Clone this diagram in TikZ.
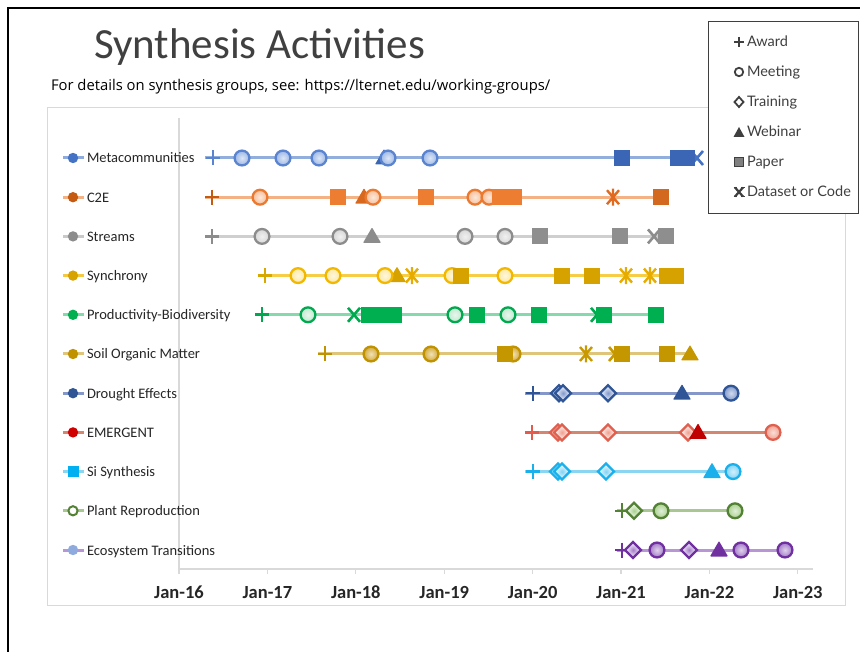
\documentclass[tikz,border=0pt]{standalone}
\usepackage{fontspec}
\setmainfont{Carlito}
\newfontfamily\latofont{Lato}
\newfontfamily\opensansfont{Open Sans}
\definecolor{titlegray}{HTML}{404040}
\definecolor{textdark}{HTML}{262626}
\definecolor{framegray}{HTML}{D9D9D9}
\definecolor{legdark}{HTML}{3F3F3F}
% per-row marker colours: border, plus, circle fill, square, triangle, dataset, line
\newcommand\setmarkcolors[7]{%
  \definecolor{mk}{HTML}{#1}\definecolor{mp}{HTML}{#2}\definecolor{mf}{HTML}{#3}%
  \definecolor{ms}{HTML}{#4}\definecolor{mt}{HTML}{#5}\definecolor{mx}{HTML}{#6}%
  \definecolor{ln}{HTML}{#7}}
\setmarkcolors{000000}{000000}{000000}{000000}{000000}{000000}{000000}
\tikzset{
  every node/.style={inner sep=0pt, outer sep=0pt},
  serline/.style={draw=ln, line width=3pt},
  mplus/.pic={\draw[mp, line width=2.6pt] (-7,0)--(7,0) (0,-7.5)--(0,7.5);},
  mcirc/.pic={\draw[mk, line width=2.3pt, inner color=mf!35!white, outer color=mf] (0,0) circle[radius=7.4pt];},
  msq/.pic={\fill[ms] (-8,-8) rectangle (8,8);},
  mtri/.pic={\fill[mt, rounded corners=0.8pt] (-9,6.5)--(9,6.5)--(0,-9)--cycle;},
  mdia/.pic={\draw[mk, line width=2.3pt, inner color=mf, outer color=white] (-8,0)--(0,-8)--(8,0)--(0,8)--cycle;},
  mxx/.pic={\draw[mx, line width=2.6pt] (-6,-7)--(6,7) (-6,7)--(6,-7);},
  mast/.pic={\draw[mx, line width=2.4pt] (-6,-7)--(6,7) (-6,7)--(6,-7) (0,-8.5)--(0,8.5);},
  serlabel/.style={anchor=base west, text=textdark, font=\fontsize{14.5}{16}\selectfont},
  yearlabel/.style={anchor=base, text=textdark, font=\bfseries\fontsize{18.5}{20}\selectfont},
  legtext/.style={anchor=base west, text=legdark, font=\latofont\fontsize{14.5}{16}\selectfont},
}
\begin{document}
\begin{tikzpicture}[x=1pt,y=-1pt]
\useasboundingbox (0,0) rectangle (860,652);
\fill[white] (0,0) rectangle (860,652);

% slide frame
\draw[line width=2pt] (8,670) -- (8,8) -- (870,8);

% heading
\node[anchor=base west, text=titlegray, font=\fontsize{43}{50}\selectfont] (title) at (94,59) {Synthesis Activities};
\node[anchor=base west, text=black, font=\opensansfont\fontsize{14.8}{17}\selectfont] (subtitle) at (51,91) {For details on synthesis groups, see: https://lternet.edu/working-groups/};

% chart area and axes
\draw[framegray, line width=1pt] (47,108) rectangle (845,605);
\draw[framegray, line width=1.3pt] (179,118) -- (179,569) -- (813,569);
\foreach \i in {0,...,7} {
  \draw[framegray, line width=1.2pt] (179+88.4*\i,569) -- ++(0,5);
  \node[yearlabel] (yr\i) at (179+88.4*\i,598) {Jan-\the\numexpr16+\i\relax};
}

% series legend on the left
\foreach \name/\lab/\dot/\lin [count=\k from 0] in {
  meta/Metacommunities/4472C4/8FAADC,
  ctwo/C2E/C55A11/F4B183,
  streams/Streams/8C8C8C/C9C9C9,
  sync/Synchrony/D6A300/F5C842,
  prod/Productivity-Biodiversity/00B050/86D9AC,
  soil/Soil Organic Matter/C09200/DFC57A,
  drought/Drought Effects/2F5597/8497C8,
  emergent/EMERGENT/D00000/D38670,
  si/Si Synthesis/00B0F0/8AD6F2,
  plant/Plant Reproduction/548235/A9C790,
  eco/Ecosystem Transitions/8FAADC/B896D6} {
  \definecolor{ldot}{HTML}{\dot}\definecolor{lline}{HTML}{\lin}
  \draw[lline, line width=3pt] (63,158+39.2*\k) -- (84,158+39.2*\k);
  \ifnum\k=8
    \fill[ldot] (67.5,152.5+39.2*\k) rectangle (78.5,163.5+39.2*\k);
  \else\ifnum\k=9
    \draw[ldot, line width=2pt, fill=white] (73,158+39.2*\k) circle[radius=4.6pt];
  \else
    \fill[ldot] (73,158+39.2*\k) circle[radius=5.2pt];
  \fi\fi
  \node[serlabel] (lab-\name) at (87,163+39.2*\k) {\lab};
}

% Metacommunities
\begin{scope}[shift={(0,158)}]
\setmarkcolors{5B84D0}{5B84D0}{9DB8E6}{3A66B5}{3A66B5}{4472C4}{92AEDD}
\draw[serline] (205,0) -- (697,0);
\pic at (213,0) {mplus};
\pic at (697,0) {mxx};
\pic at (384,0) {mtri};
\foreach \x in {242,283,319,388,430} \pic at (\x,0) {mcirc};
\foreach \x in {622,678,687} \pic at (\x,0) {msq};
\end{scope}

% C2E
\begin{scope}[shift={(0,197.2)}]
\setmarkcolors{EB7A30}{C55A11}{F6BE98}{ED7D31}{D9681F}{E06A20}{F4B183}
\draw[serline] (205,0) -- (661,0);
\pic at (212,0) {mplus};
\pic at (613,0) {mast};
\pic at (364,0) {mtri};
\foreach \x in {260,373,475,489} \pic at (\x,0) {mcirc};
\foreach \x in {338,426,500,514} \pic at (\x,0) {msq};
\definecolor{ms}{HTML}{D2691E}
\pic at (661,0) {msq};
\end{scope}

% Streams
\begin{scope}[shift={(0,236.4)}]
\setmarkcolors{8C8C8C}{8C8C8C}{D6D6D6}{8E8E8E}{8C8C8C}{8C8C8C}{CFCFCF}
\draw[serline] (205,0) -- (667,0);
\pic at (212,0) {mplus};
\pic at (654,0) {mxx};
\pic at (372,0) {mtri};
\foreach \x in {262,340,465,505} \pic at (\x,0) {mcirc};
\foreach \x in {540,620,666} \pic at (\x,0) {msq};
\end{scope}

% Synchrony
\begin{scope}[shift={(0,275.6)}]
\setmarkcolors{F2B800}{D6A800}{FCE8A0}{D6A200}{D6A200}{E6AC00}{F6CD45}
\draw[serline] (258,0) -- (680,0);
\pic at (265,0) {mplus};
\foreach \x in {412,626,650} \pic at (\x,0) {mast};
\pic at (397,0) {mtri};
\foreach \x in {298,333,385,452,505} \pic at (\x,0) {mcirc};
\foreach \x in {461,562,592,667,676} \pic at (\x,0) {msq};
\end{scope}

% Productivity-Biodiversity
\begin{scope}[shift={(0,314.8)}]
\setmarkcolors{00A84F}{00A84F}{BFE8CD}{00B050}{00B050}{00A84F}{86D9AC}
\draw[serline] (255,0) -- (656,0);
\pic at (262,0) {mplus};
\foreach \x in {354,597} \pic at (\x,0) {mxx};
\foreach \x in {308,455,508} \pic at (\x,0) {mcirc};
\foreach \x in {369,381,394,477,539,604,656} \pic at (\x,0) {msq};
\end{scope}

% Soil Organic Matter
\begin{scope}[shift={(0,354)}]
\setmarkcolors{C09200}{C09200}{D4AA3A}{C49600}{C49600}{C99A00}{DFC57A}
\draw[serline] (318,0) -- (690,0);
\pic at (325,0) {mplus};
\pic at (586,0) {mast};
\pic at (615,0) {mxx};
\pic at (690,0) {mtri};
\foreach \x in {371,431,513} \pic at (\x,0) {mcirc};
\foreach \x in {505,622,667} \pic at (\x,0) {msq};
\end{scope}

% Drought Effects
\begin{scope}[shift={(0,393.2)}]
\setmarkcolors{2F5597}{2F5597}{7F98CC}{2F5597}{2F5597}{2F5597}{8497C8}
\draw[serline] (525,0) -- (732,0);
\pic at (533,0) {mplus};
\foreach \x in {559,563,608} \pic at (\x,0) {mdia};
\pic at (682,0) {mtri};
\pic at (731,0) {mcirc};
\end{scope}

% EMERGENT
\begin{scope}[shift={(0,432.4)}]
\setmarkcolors{E0604F}{E55B4B}{F0A090}{E0604F}{C00000}{E0604F}{D38670}
\draw[serline] (525,0) -- (773,0);
\pic at (532,0) {mplus};
\foreach \x in {558,562,608,688} \pic at (\x,0) {mdia};
\pic at (698,0) {mtri};
\pic at (773,0) {mcirc};
\end{scope}

% Si Synthesis
\begin{scope}[shift={(0,471.6)}]
\setmarkcolors{1AB0EC}{1AB0EC}{7FD3F5}{1AB0EC}{1AB0EC}{1AB0EC}{8AD6F2}
\draw[serline] (525,0) -- (733,0);
\pic at (533,0) {mplus};
\foreach \x in {558,562,606} \pic at (\x,0) {mdia};
\pic at (712,0) {mtri};
\pic at (733,0) {mcirc};
\end{scope}

% Plant Reproduction
\begin{scope}[shift={(0,510.8)}]
\setmarkcolors{548235}{548235}{A9D18E}{548235}{548235}{548235}{A9C790}
\draw[serline] (617,0) -- (735,0);
\pic at (622,0) {mplus};
\pic at (634,0) {mdia};
\foreach \x in {661,735} \pic at (\x,0) {mcirc};
\end{scope}

% Ecosystem Transitions
\begin{scope}[shift={(0,550)}]
\setmarkcolors{7030A0}{7030A0}{A57CC9}{7030A0}{7030A0}{7030A0}{B896D6}
\draw[serline] (617,0) -- (785,0);
\pic at (622,0) {mplus};
\foreach \x in {633,689} \pic at (\x,0) {mdia};
\pic at (719,0) {mtri};
\foreach \x in {657,741,785} \pic at (\x,0) {mcirc};
\end{scope}

% event-type legend
\draw[legdark, line width=1pt, fill=white] (708,22) rectangle (858,214);
\begin{scope}[legdark]
\draw[line width=2pt] (734,42) -- (744,42) (739,37) -- (739,47);
\draw[line width=1.8pt] (739,72) circle[radius=4.2pt];
\draw[line width=1.8pt] (739,97) -- (743.5,102) -- (739,107) -- (734.5,102) -- cycle;
\fill (733.5,137) -- (744.5,137) -- (739,127) -- cycle;
\draw[line width=1pt, fill=gray] (734.5,157.5) rectangle (743.5,166.5);
\draw[line width=2.2pt] (735,187.5) -- (743,196.5) (735,196.5) -- (743,187.5);
\draw[line width=1.2pt] (733.5,187.5) -- (737,187.5) (741,187.5) -- (744.5,187.5) (733.5,196.5) -- (737,196.5) (741,196.5) -- (744.5,196.5);
\end{scope}
\node[legtext] (lg-award) at (747,47) {Award};
\node[legtext] (lg-meeting) at (747,77) {Meeting};
\node[legtext] (lg-training) at (747,107) {Training};
\node[legtext] (lg-webinar) at (747,137) {Webinar};
\node[legtext] (lg-paper) at (747,167) {Paper};
\node[legtext] (lg-data) at (747,197) {Dataset or Code};
\end{tikzpicture}
\end{document}
